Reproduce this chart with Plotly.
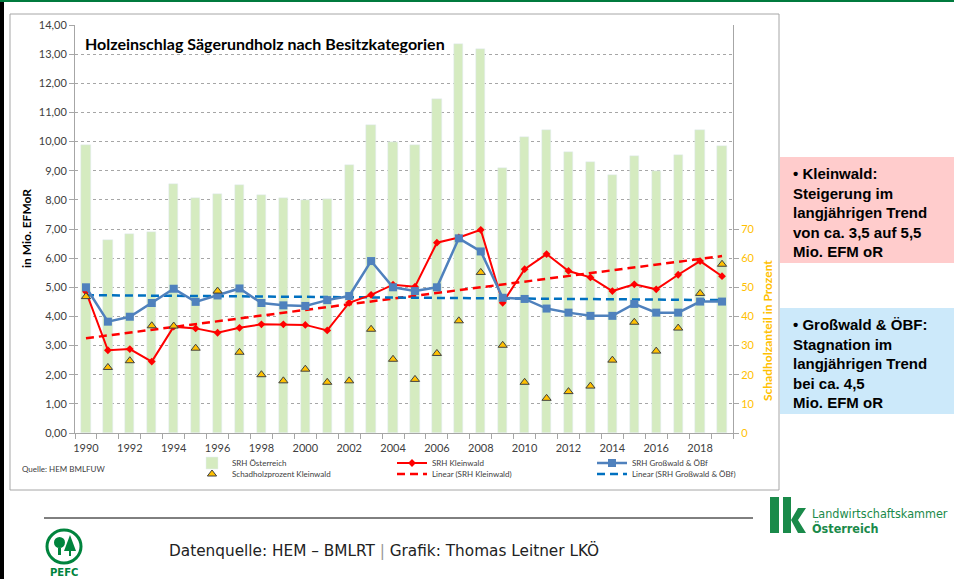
import plotly.graph_objects as go

years = list(range(1990, 2020))

srh_oesterreich = [9.87, 6.62, 6.83, 6.90, 8.54, 8.06, 8.20, 8.52, 8.17, 8.06,
                   8.01, 8.03, 9.19, 10.56, 10.00, 9.88, 11.47, 13.34, 13.17, 9.09,
                   10.16, 10.39, 9.64, 9.31, 8.85, 9.49, 8.99, 9.54, 10.39, 9.85]

srh_kleinwald = [4.85, 2.84, 2.88, 2.45, 3.65, 3.59, 3.44, 3.61, 3.73, 3.73,
                 3.71, 3.52, 4.47, 4.74, 5.09, 5.02, 6.53, 6.71, 6.97, 4.47,
                 5.62, 6.14, 5.56, 5.34, 4.87, 5.10, 4.93, 5.43, 5.90, 5.38]

srh_grosswald = [5.00, 3.82, 3.99, 4.46, 4.95, 4.50, 4.72, 4.96, 4.46, 4.38,
                 4.36, 4.56, 4.70, 5.90, 5.00, 4.87, 5.00, 6.68, 6.23, 4.64,
                 4.60, 4.27, 4.13, 4.02, 4.02, 4.43, 4.13, 4.13, 4.51, 4.51]

schadholz_pct = [46.8, 22.5, 24.8, 36.8, 36.7, 29.1, 48.7, 27.7, 20.0, 17.9,
                 21.9, 17.4, 17.9, 35.6, 25.3, 18.4, 27.3, 38.5, 55.1, 30.1,
                 17.4, 11.9, 14.2, 16.1, 25.0, 38.0, 28.1, 36.0, 47.9, 57.9]

# Endpunkte der linearen Trends
trend_years = [1990, 2019]
trend_kleinwald = [3.25, 6.07]
trend_grosswald = [4.73, 4.56]

left_ticks = list(range(0, 15))
right_ticks = list(range(0, 80, 10))
x_ticks = list(range(1990, 2019, 2))

GREEN_BAR = "#D5EBC0"
RED = "#FF0000"
BLUE = "#4F81BD"
BLUE_DASH = "#0070C0"
GOLD = "#FFC000"
GRID = "#A6A6A6"


# Pixel -> paper (Plotbereich 75..733 x 25..433)
def px(x):
    return (x - 75) / 658


def py(y):
    return (433 - y) / 408


def rect(x0, y0, x1, y1, **kw):
    return dict(type="rect", xref="paper", yref="paper",
                x0=px(x0), x1=px(x1), y0=py(y0), y1=py(y1), **kw)


def path(points, **kw):
    d = "M " + " L ".join(f"{px(a):.5f},{py(b):.5f}" for a, b in points) + " Z"
    return dict(type="path", xref="paper", yref="paper", path=d, **kw)


def note(x, y, text, size, color="#000000", family="Lato", **kw):
    return dict(xref="paper", yref="paper", x=px(x), y=py(y), text=text,
                showarrow=False, font=dict(family=family, size=size, color=color), **kw)


fig = go.Figure()

fig.add_trace(go.Bar(x=years, y=srh_oesterreich, name="SRH Österreich",
                     marker_color=GREEN_BAR, width=0.42, legend="legend"))
fig.add_trace(go.Scatter(x=trend_years, y=trend_kleinwald, mode="lines",
                         name="Linear (SRH Kleinwald)", legend="legend2",
                         line=dict(color=RED, width=2.5, dash="8px,5px")))
fig.add_trace(go.Scatter(x=trend_years, y=trend_grosswald, mode="lines",
                         name="Linear (SRH Großwald & ÖBf)", legend="legend2",
                         line=dict(color=BLUE_DASH, width=2.5, dash="8px,5px")))
fig.add_trace(go.Scatter(x=years, y=srh_kleinwald, mode="lines+markers",
                         name="SRH Kleinwald", legend="legend",
                         line=dict(color=RED, width=2),
                         marker=dict(symbol="diamond", size=6, color=RED)))
fig.add_trace(go.Scatter(x=years, y=srh_grosswald, mode="lines+markers",
                         name="SRH Großwald & ÖBf", legend="legend",
                         line=dict(color=BLUE, width=2.5),
                         marker=dict(symbol="square", size=8, color=BLUE)))
fig.add_trace(go.Scatter(x=years, y=schadholz_pct, mode="markers", yaxis="y2",
                         name="Schadholzprozent Kleinwald", legend="legend2",
                         marker=dict(symbol="triangle-up", size=8, color=GOLD,
                                     line=dict(color="#404040", width=1))))

# Legenden-Reihenfolge: Zeile 1 und Zeile 2
for tr, rank in zip(fig.data, [1, 2, 3, 2, 3, 1]):
    tr.legendrank = rank

shapes = [
    rect(0, 0, 954, 2, fillcolor="#007A3D", line_width=0, layer="below"),
    rect(0, 2, 4, 579, fillcolor="#000000", line_width=0, layer="below"),
    rect(10, 14, 779, 490, line=dict(color=GRID, width=1), layer="below"),
    dict(type="line", xref="paper", yref="paper", x0=px(44), x1=px(753),
         y0=py(518), y1=py(518), line=dict(color="#000000", width=1)),
    rect(780, 157, 954, 263, fillcolor="#FFCCCC", line_width=0),
    rect(780, 308, 954, 414, fillcolor="#CCE9FA", line_width=0),
    # PEFC Logo
    dict(type="circle", xref="paper", yref="paper", x0=px(47), x1=px(81),
         y0=py(530), y1=py(563), line=dict(color="#00843D", width=3)),
    dict(type="circle", xref="paper", yref="paper", x0=px(54), x1=px(65),
         y0=py(537), y1=py(548), fillcolor="#00843D", line_width=0),
    path([(58, 548), (61, 548), (61, 555), (58, 555)], fillcolor="#00843D", line_width=0),
    path([(70, 535), (76, 551), (64, 551)], fillcolor="#00843D", line_width=0),
    path([(69, 551), (71, 551), (71, 556), (69, 556)], fillcolor="#00843D", line_width=0),
    # lk Logo
    rect(770, 497, 779, 533, fillcolor="#1A8A4A", line_width=0),
    rect(783, 497, 791, 533, fillcolor="#1A8A4A", line_width=0),
    path([(791, 520), (798, 508), (806, 508), (798, 520), (806, 533), (798, 533)],
         fillcolor="#1A8A4A", line_width=0),
]

box_font = "Liberation Sans"
annotations = [
    note(83, 44, "<b>Holzeinschlag Sägerundholz nach Besitzkategorien</b>", 16,
         xanchor="left", yanchor="middle"),
    note(26, 229, "<b>in Mio. EFMoR</b>", 12, textangle=-90,
         xanchor="center", yanchor="middle"),
    note(767, 331, "<b>Schadholzanteil in Prozent</b>", 12, color=GOLD, textangle=-90,
         xanchor="center", yanchor="middle"),
    note(20, 469, "Quelle: HEM BMLFUW", 8, color="#404040",
         xanchor="left", yanchor="middle"),
    note(791, 163, "<b>• Kleinwald:<br>Steigerung im<br>langjährigen Trend<br>"
         "von ca. 3,5 auf 5,5<br>Mio. EFM oR</b>", 15, family=box_font,
         align="left", xanchor="left", yanchor="top"),
    note(791, 314, "<b>• Großwald &amp; ÖBF:<br>Stagnation im<br>langjährigen Trend<br>"
         "bei ca. 4,5<br>Mio. EFM oR</b>", 15, family=box_font,
         align="left", xanchor="left", yanchor="top"),
    note(167, 550, "Datenquelle: HEM – BMLRT <span style='color:#999999'>|</span> "
         "Grafik: Thomas Leitner LKÖ", 15.3, color="#222222", family="DejaVu Sans",
         xanchor="left", yanchor="middle"),
    note(64, 572, "<b>PEFC</b>", 10, color="#00843D", family="DejaVu Sans",
         xanchor="center", yanchor="middle"),
    note(810, 513, "Landwirtschaftskammer", 12.5, color="#1A8A4A",
         family="Liberation Sans Narrow, DejaVu Sans Condensed",
         xanchor="left", yanchor="middle"),
    note(810, 528, "<b>Österreich</b>", 12.5, color="#1A8A4A",
         family="Liberation Sans Narrow, DejaVu Sans Condensed",
         xanchor="left", yanchor="middle"),
]

legend_common = dict(orientation="h", xref="paper", yref="paper",
                     xanchor="left", yanchor="middle", entrywidth=155,
                     entrywidthmode="pixels", itemwidth=30,
                     font=dict(family="Lato", size=8, color="#404040"),
                     bgcolor="rgba(0,0,0,0)")

fig.update_layout(
    width=954, height=579,
    margin=dict(l=75, r=221, t=25, b=146, autoexpand=False),
    paper_bgcolor="white", plot_bgcolor="white",
    separators=",.",
    font=dict(family="Lato", size=11, color="#404040"),
    bargap=0,
    showlegend=True,
    legend=dict(x=px(192), y=py(463), **legend_common),
    legend2=dict(x=px(192), y=py(474), **legend_common),
    xaxis=dict(range=[1989.5, 2019.5], tickvals=x_ticks, ticks="outside",
               ticklen=5, tickcolor="rgba(0,0,0,0)", showgrid=False,
               showline=True, linecolor=GRID, zeroline=False,
               minor=dict(tickmode="linear", tick0=1989.5, dtick=1, ticks="outside",
                          ticklen=5, tickcolor=GRID, showgrid=False),
               tickfont=dict(size=11, color="#404040")),
    yaxis=dict(range=[0, 14], tickvals=left_ticks, tickformat=".2f",
               ticks="outside", ticklen=5, tickcolor=GRID,
               showline=True, linecolor=GRID, zeroline=False,
               showgrid=True, gridcolor=GRID, griddash="dot", gridwidth=1,
               tickfont=dict(size=11, color="#404040")),
    yaxis2=dict(range=[0, 140], tickvals=right_ticks, overlaying="y", side="right",
                ticks="outside", ticklen=5, tickcolor=GRID,
                showline=True, linecolor=GRID, showgrid=False, zeroline=False,
                tickfont=dict(size=11, color=GOLD)),
    shapes=shapes,
    annotations=annotations,
)

fig.write_html("out.html", config={"displayModeBar": False},
               post_script="document.body.style.margin='0';"
                           "document.body.style.overflow='hidden';")
